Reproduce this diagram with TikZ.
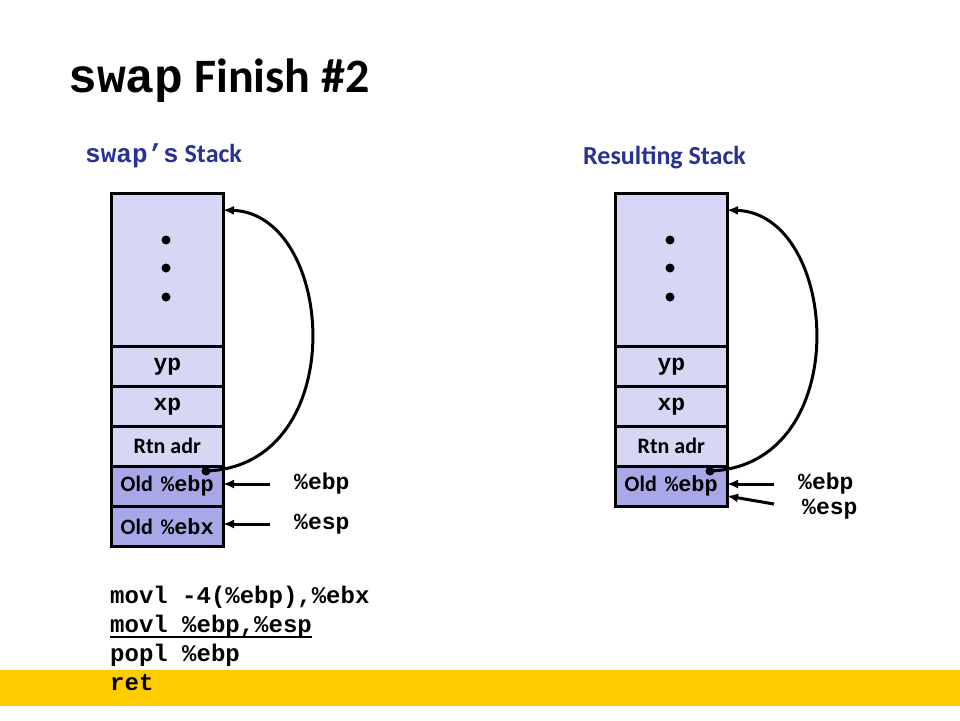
\documentclass[tikz,border=0pt]{standalone}
\usepackage{fontspec}
\setmainfont{Carlito}
\setmonofont{Liberation Mono}
\usetikzlibrary{arrows.meta}
\definecolor{cellL}{RGB}{214,214,245}
\definecolor{cellD}{RGB}{168,168,232}
\definecolor{titleblue}{RGB}{40,50,150}
\definecolor{band}{RGB}{255,204,0}
\begin{document}
\begin{tikzpicture}[x=1pt,y=-1pt,
  cell/.style={draw=black,line width=2.6pt,fill=cellL,minimum width=112pt,minimum height=40pt,inner sep=0pt,anchor=north west,font=\fontsize{22}{26}\selectfont\bfseries},
  dcell/.style={cell,fill=cellD},
  mono/.style={font=\fontsize{23}{26}\selectfont\ttfamily\bfseries},
  ptr/.style={-{Latex[length=11pt,width=9pt]},line width=3pt},
  dotc/.style={circle,fill=black,inner sep=0pt,minimum size=9pt}]
\useasboundingbox (0,0) rectangle (960,720);
\fill[white] (0,0) rectangle (960,720);
\fill[band] (0,670) rectangle (960,706);
% title
\node[anchor=base west,inner sep=0pt] (title) at (68,92) {\fontsize{48}{52}\selectfont\bfseries{\ttfamily swap} Finish \#2};
\node[anchor=base west,inner sep=0pt,text=titleblue] (subL) at (85,162) {\fontsize{26}{30}\selectfont\bfseries{\ttfamily swap’s} Stack};
\node[anchor=base west,inner sep=0pt,text=titleblue] (subR) at (583,164) {\fontsize{26}{30}\selectfont\bfseries Resulting Stack};
% left stack
\node[cell,minimum height=153pt] (Ltop) at (110,192) {};
\node[cell] (Lyp) at (110,345) {\fontsize{23}{26}\selectfont\ttfamily yp};
\node[cell] (Lxp) at (110,385) {\fontsize{23}{26}\selectfont\ttfamily xp};
\node[cell] (Lrtn) at (110,425) {Rtn adr};
\node[dcell] (Lebp) at (110,465) {Old\hspace{0.15em} {\ttfamily\fontsize{22}{24}\selectfont \%ebp}};
\node[dcell] (Lebx) at (110,505) {Old\hspace{0.15em} {\ttfamily\fontsize{22}{24}\selectfont \%ebx}};
\node[dotc] (Ld1) at (166,240) {};
\node[dotc] (Ld2) at (166,268) {};
\node[dotc] (Ld3) at (166,297) {};
% right stack
\node[cell,minimum height=153pt] (Rtop) at (614,192) {};
\node[cell] (Ryp) at (614,345) {\fontsize{23}{26}\selectfont\ttfamily yp};
\node[cell] (Rxp) at (614,385) {\fontsize{23}{26}\selectfont\ttfamily xp};
\node[cell] (Rrtn) at (614,425) {Rtn adr};
\node[dcell] (Rebp) at (614,465) {Old\hspace{0.15em} {\ttfamily\fontsize{22}{24}\selectfont \%ebp}};
\node[dotc] (Rd1) at (670,240) {};
\node[dotc] (Rd2) at (670,268) {};
\node[dotc] (Rd3) at (670,297) {};
% left pointers
\node[dotc] (Lsrc) at (206,471) {};
\coordinate (Ltgt) at (223,210);
\draw[ptr] (Lsrc.center) .. controls (352,466) and (336,214) .. (Ltgt);
\node[mono,anchor=west,inner sep=0pt] (LebpL) at (294,484) {\%ebp};
\node[mono,anchor=west,inner sep=0pt] (LespL) at (294,524) {\%esp};
\coordinate (LebpA) at (223,484);
\coordinate (LespA) at (223,524);
\draw[ptr] (LebpL.west) ++(-24,0) -- (LebpA);
\draw[ptr] (LespL.west) ++(-24,0) -- (LespA);
% right pointers
\node[dotc] (Rsrc) at (710,471) {};
\coordinate (Rtgt) at (727,210);
\draw[ptr] (Rsrc.center) .. controls (856,466) and (840,214) .. (Rtgt);
\node[mono,anchor=west,inner sep=0pt] (RebpL) at (798,484) {\%ebp};
\node[mono,anchor=west,inner sep=0pt] (RespL) at (802,509) {\%esp};
\coordinate (RebpA) at (727,484);
\coordinate (RespA) at (727,496);
\coordinate (RebpS) at (774,484);
\coordinate (RespS) at (774,504);
\draw[ptr] (RebpS) -- (RebpA);
\draw[ptr] (RespS) -- (RespA);
% code
\node[anchor=base west,inner sep=0pt,font=\fontsize{24}{29}\selectfont\ttfamily\bfseries] (c1) at (110,603) {movl -4(\%ebp),\%ebx};
\node[anchor=base west,inner sep=0pt,font=\fontsize{24}{29}\selectfont\ttfamily\bfseries] (c2) at (110,632) {movl \%ebp,\%esp};
\node[anchor=base west,inner sep=0pt,font=\fontsize{24}{29}\selectfont\ttfamily\bfseries] (c3) at (110,661) {popl \%ebp};
\node[anchor=base west,inner sep=0pt,font=\fontsize{24}{29}\selectfont\ttfamily\bfseries] (c4) at (110,690) {ret};
\draw[line width=1.8pt] (c2.base west) ++(0,5) -- ++(202,0);
\end{tikzpicture}
\end{document}
